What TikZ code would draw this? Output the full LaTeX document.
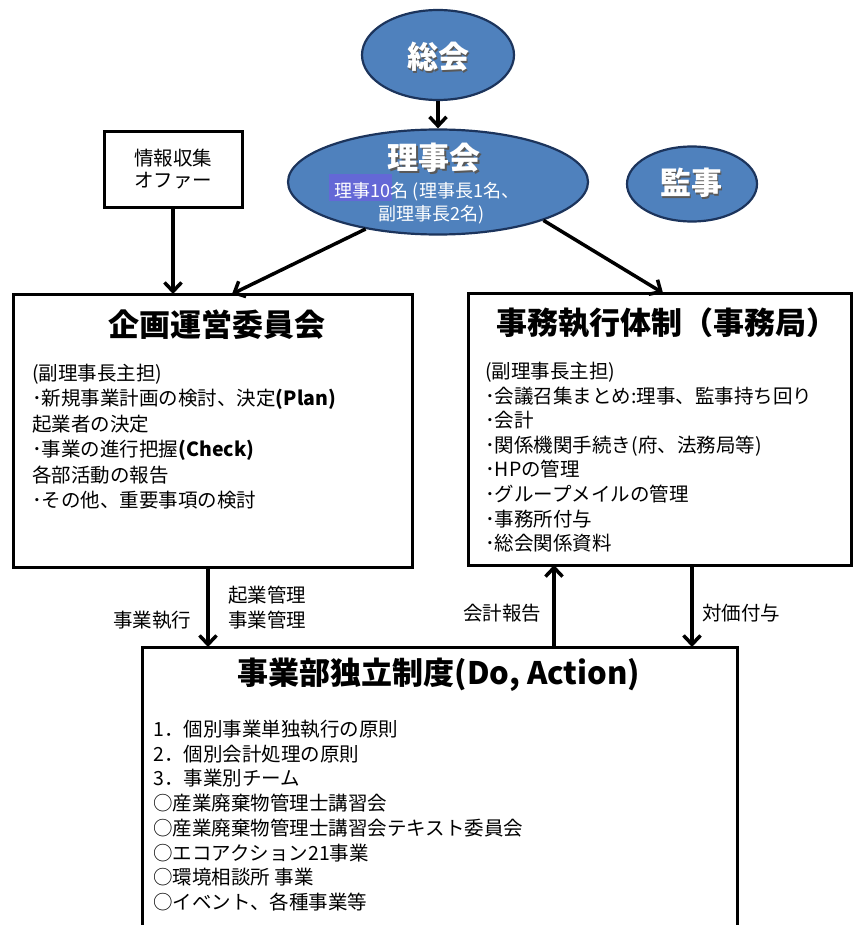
\documentclass[tikz,border=0pt]{standalone}
\usepackage{fontspec}
\setmainfont{Noto Sans CJK JP}
\usetikzlibrary{shapes.geometric,arrows.meta,calc}

\definecolor{ovalblue}{RGB}{79,129,189}
\definecolor{ovalline}{RGB}{28,52,92}
\definecolor{selblue}{RGB}{100,104,214}

\tikzset{
  oval/.style={ellipse, draw=ovalline, line width=2.2pt, fill=ovalblue, inner sep=0pt},
  ovaltitle/.style={text=white, font=\fontsize{31}{31}\selectfont\bfseries, inner sep=0pt},
  ovalshadow/.style={ovaltitle, text=black!65, xshift=1.5pt, yshift=-1.5pt},
  ovalsub/.style={text=white, font=\fontsize{18}{23}\selectfont, inner sep=0pt},
  bigbox/.style={draw, line width=3pt, rectangle, inner sep=0pt, outer sep=0pt, anchor=north west},
  boxtitle/.style={font=\fontsize{31}{31}\selectfont\bfseries, inner sep=0pt},
  bodytext/.style={font=\fontsize{19.5}{24}\selectfont, inner sep=0pt, anchor=west,
    text height=0.85em, text depth=0.15em},
  flowlabel/.style={font=\fontsize{19.5}{24}\selectfont, inner sep=0pt},
  arr/.style={line width=3.5pt, -{Straight Barb[length=9pt,width=17pt]}}
}

\begin{document}
\begin{tikzpicture}[x=1pt, y=-1pt]
\useasboundingbox (0,0) rectangle (854,925);
\clip (0,0) rectangle (854,925);

% ovals
\node[oval, minimum width=152pt, minimum height=90pt] (sokai) at (438,55) {};
\node[oval, minimum width=300pt, minimum height=105pt] (rijikai) at (438,182) {};
\node[oval, minimum width=130pt, minimum height=75pt] (kanji) at (692,184) {};

\node[ovalshadow] at (438,57) {総会};
\node[ovaltitle] (sokaiT) at (438,57) {総会};
\node[ovalshadow] at (434,158) {理事会};
\node[ovaltitle] (rijikaiT) at (434,158) {理事会};
\node[ovalshadow] at (691,183) {監事};
\node[ovaltitle] (kanjiT) at (691,183) {監事};

\fill[selblue] (329,174) rectangle (392,201);
\node[ovalsub] (rijiA) at (427,192) {理事10名 (理事長1名、};
\node[ovalsub] (rijiB) at (432,215) {副理事長2名)};

% boxes
\node[bigbox, minimum width=138pt, minimum height=76pt] (joho) at (104,132) {};
\node[flowlabel] (johoA) at (173,158) {情報収集};
\node[flowlabel] (johoB) at (173,181) {オファー};

\node[bigbox, minimum width=399pt, minimum height=273pt] (kikaku) at (13,294) {};
\node[bigbox, minimum width=383pt, minimum height=272pt] (jimu) at (468,293) {};
\node[bigbox, minimum width=595pt, minimum height=300pt] (jigyo) at (142,647) {};

\node[boxtitle] (kikakuT) at (217,325) {企画運営委員会};
\node[boxtitle] (jimuT) at (667,323) {事務執行体制（事務局）};
\node[boxtitle] (jigyoT) at (439,675) {事業部独立制度(Do, Action)};

\foreach \t [count=\i from 0] in {{(副理事長主担)},
    {･新規事業計画の検討、決定\textbf{(Plan)}},
    {起業者の決定},
    {･事業の進行把握\textbf{(Check)}},
    {各部活動の報告},
    {･その他、重要事項の検討}}
  \node[bodytext] (kb\i) at (32,377+25.4*\i) {\t};

\foreach \t [count=\i from 0] in {{(副理事長主担)},
    {･会議召集まとめ:理事、監事持ち回り},
    {･会計},
    {･関係機関手続き(府、法務局等)},
    {･HPの管理},
    {･グループメイルの管理},
    {･事務所付与},
    {･総会関係資料}}
  \node[bodytext] (jb\i) at (485,375+24.6*\i) {\t};

\foreach \t [count=\i from 0] in {{1．個別事業単独執行の原則},
    {2．個別会計処理の原則},
    {3．事業別チーム},
    {○産業廃棄物管理士講習会},
    {○産業廃棄物管理士講習会テキスト委員会},
    {○エコアクション21事業},
    {○環境相談所 事業},
    {○イベント、各種事業等}}
  \node[bodytext] (db\i) at (153,733+24.7*\i) {\t};

% labels
\node[flowlabel] (lbExec) at (152,620) {事業執行};
\node[flowlabel] (lbKigyo) at (267,595) {起業管理};
\node[flowlabel] (lbKanri) at (267,620) {事業管理};
\node[flowlabel] (lbKaikei) at (502,613) {会計報告};
\node[flowlabel] (lbTaika) at (741,613) {対価付与};

% arrows
\draw[arr] (sokai.south) -- (rijikai.north);
\draw[arr] (rijikai.213) -- ([xshift=219pt]kikaku.north west);
\draw[arr] (rijikai.340) -- ([xshift=195pt]jimu.north west);
\draw[arr] (joho.south) -- (joho.south |- kikaku.north);

\coordinate (execIn) at ([xshift=66pt]jigyo.north west);
\draw[arr] (execIn |- kikaku.south) -- (execIn);
\coordinate (kaikeiIn) at ([xshift=412pt]jigyo.north west);
\draw[arr] (kaikeiIn) -- (kaikeiIn |- jimu.south);
\coordinate (taikaOut) at ([xshift=224pt]jimu.south west);
\draw[arr] (taikaOut) -- (taikaOut |- jigyo.north);

\end{tikzpicture}
\end{document}
